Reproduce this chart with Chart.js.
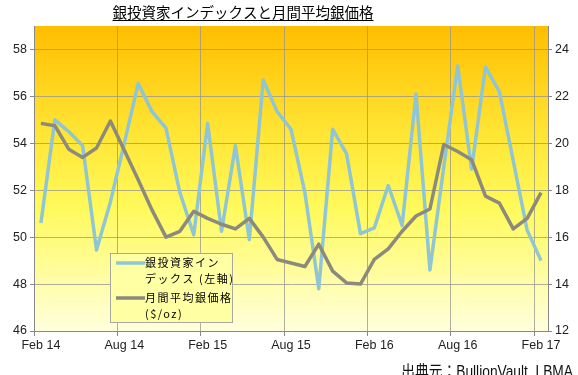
<!DOCTYPE html>
<html>
<head>
<meta charset="utf-8">
<script src="https://cdn.jsdelivr.net/npm/chart.js@4"></script>
<style>
  body { margin: 0; background: #fff; }
  #wrap { width: 578px; height: 375px; position: relative; }
</style>
</head>
<body>
<div id="wrap"><canvas id="myChart"></canvas></div>
<script>
// monthly categories, Feb 14 .. Feb 17
const months = [
  "Feb 14", "Mar 14", "Apr 14", "May 14", "Jun 14", "Jul 14", "Aug 14", "Sep 14", "Oct 14", "Nov 14", "Dec 14", "Jan 15",
  "Feb 15", "Mar 15", "Apr 15", "May 15", "Jun 15", "Jul 15", "Aug 15", "Sep 15", "Oct 15", "Nov 15", "Dec 15", "Jan 16",
  "Feb 16", "Mar 16", "Apr 16", "May 16", "Jun 16", "Jul 16", "Aug 16", "Sep 16", "Oct 16", "Nov 16", "Dec 16", "Jan 17",
  "Feb 17"
];

// Silver Investor Index (left axis)
const investorIndex = [
  50.6, 55.0, 54.5, 53.9, 49.45, 51.5, 54.0, 56.55, 55.35, 54.65, 51.9, 50.1,
  54.85, 50.25, 53.9, 49.9, 56.7, 55.35, 54.6, 51.9, 47.8, 54.6, 53.55, 50.15,
  50.4, 52.2, 50.5, 56.1, 48.6, 53.0, 57.3, 52.9, 57.25, 56.2, 53.25, 50.3,
  49.0
];

// monthly average silver price, $/oz (right axis)
const silverPrice = [
  20.85, 20.75, 19.75, 19.4, 19.8, 20.95, 19.7, 18.45, 17.15, 16.0, 16.25, 17.1,
  16.8, 16.55, 16.35, 16.8, 16.0, 15.05, 14.9, 14.75, 15.7, 14.55, 14.05, 14.0,
  15.05, 15.5, 16.25, 16.9, 17.2, 19.95, 19.65, 19.3, 17.75, 17.45, 16.35, 16.8,
  17.9
];

const titleText = "銀投資家インデックスと月間平均銀価格";
const sourceText = "出典元：BullionVault, LBMA";
const legendLines = [["銀投資家イン", "デックス (左軸)"], ["月間平均銀価格", "($/oz)"]];

const BLUE = "#90C6D4";
const GREY = "#8C8A7C";
const GRID = "rgba(150,150,140,0.75)";

const plotBg = {
  id: "plotBg",
  beforeDraw(chart) {
    const { ctx, chartArea: a } = chart;
    const g = ctx.createLinearGradient(0, a.top, 0, a.bottom);
    g.addColorStop(0, "#FFBE00");
    g.addColorStop(0.35, "#FFE534");
    g.addColorStop(0.6, "#FFFA5C");
    g.addColorStop(1, "#FFFFDC");
    ctx.save();
    ctx.fillStyle = g;
    ctx.fillRect(a.left, a.top, a.right - a.left, a.bottom - a.top);
    ctx.restore();
  }
};

const extras = {
  id: "extras",
  afterDraw(chart) {
    const ctx = chart.ctx;
    ctx.save();

    // title, underlined
    ctx.font = '14.5px "Noto Sans CJK JP"';
    ctx.fillStyle = "#000";
    ctx.textAlign = "center";
    ctx.textBaseline = "middle";
    const tw = ctx.measureText(titleText).width;
    ctx.fillText(titleText, 243, 12);
    ctx.fillRect(243 - tw / 2, 20, tw, 1);

    // legend box
    ctx.fillStyle = "#FFFFA4";
    ctx.strokeStyle = "#A8A8A0";
    ctx.lineWidth = 1;
    ctx.fillRect(110.5, 253.5, 122, 69);
    ctx.strokeRect(110.5, 253.5, 122, 69);
    ctx.font = '11px "Noto Sans CJK JP"';
    ctx.letterSpacing = "1.5px";
    ctx.textAlign = "left";
    ctx.textBaseline = "middle";
    const rows = [263, 298];
    chart.data.datasets.forEach((ds, k) => {
      const y = rows[k];
      ctx.strokeStyle = ds.borderColor;
      ctx.lineWidth = 3.5;
      ctx.beginPath();
      ctx.moveTo(116, y);
      ctx.lineTo(145, y);
      ctx.stroke();
      ctx.fillStyle = "#000";
      ctx.fillText(legendLines[k][0], 145, y);
      ctx.fillText(legendLines[k][1], 145, y + 16);
    });
    ctx.letterSpacing = "0px";

    // source note
    ctx.translate(573, 377);
    ctx.scale(0.86, 1);
    ctx.font = '16px "Liberation Sans", "Noto Sans CJK JP"';
    ctx.textAlign = "right";
    ctx.textBaseline = "alphabetic";
    ctx.fillStyle = "#111";
    ctx.fillText(sourceText, 0, 0);
    ctx.restore();
  }
};

Chart.defaults.font.family = '"Liberation Sans", Arial, sans-serif';
Chart.defaults.font.size = 12.5;
Chart.defaults.color = "#222";

const myChart = new Chart(document.getElementById("myChart"), {
  type: "line",
  data: {
    labels: months,
    datasets: [{
      label: "銀投資家インデックス (左軸)",
      data: investorIndex,
      yAxisID: "y",
      borderColor: BLUE,
      borderWidth: 3.5,
      pointRadius: 0,
      tension: 0,
      borderJoinStyle: "round",
      order: 2
    }, {
      label: "月間平均銀価格 ($/oz)",
      data: silverPrice,
      yAxisID: "y2",
      borderColor: GREY,
      borderWidth: 3.5,
      pointRadius: 0,
      tension: 0,
      borderJoinStyle: "round",
      order: 1
    }]
  },
  options: {
    responsive: true,
    maintainAspectRatio: false,
    animation: false,
    layout: { padding: { top: 26, bottom: 20, left: 0, right: 0 } },
    plugins: {
      legend: { display: false },
      title: { display: false },
      tooltip: { enabled: false }
    },
    scales: {
      x: {
        offset: true,
        grid: {
          offset: true,
          color: (c) => (c.index % 6 === 0 ? GRID : "rgba(0,0,0,0)"),
          tickColor: (c) => (c.index % 6 === 0 ? "#888" : "rgba(0,0,0,0)"),
          tickLength: 5
        },
        border: { color: "#888" },
        ticks: {
          autoSkip: false,
          maxRotation: 0,
          padding: 2,
          callback: (v, i) => (i % 6 === 0 ? months[i] : "")
        },
        afterFit: (s) => { s.height = 24; }
      },
      y: {
        position: "left",
        min: 46,
        max: 59,
        grid: { color: GRID, tickColor: "#888", tickLength: 4 },
        border: { color: "#888" },
        ticks: { stepSize: 2, includeBounds: false, padding: 3 },
        afterFit: (s) => { s.width = 34; }
      },
      y2: {
        position: "right",
        min: 12,
        max: 25,
        grid: { drawOnChartArea: false, tickColor: "#888", tickLength: 4 },
        border: { color: "#888" },
        ticks: { stepSize: 2, includeBounds: false, padding: 3 },
        afterFit: (s) => { s.width = 30; }
      }
    }
  },
  plugins: [plotBg, extras]
});
</script>
</body>
</html>
